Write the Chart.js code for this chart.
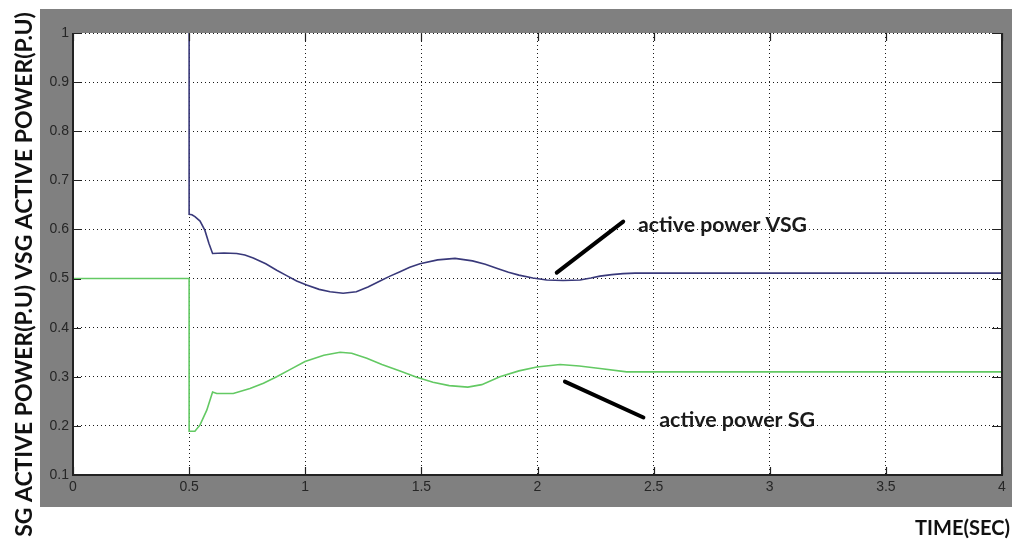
<!DOCTYPE html>
<html>
<head>
<meta charset="utf-8">
<script src="https://cdn.jsdelivr.net/npm/chart.js@4.4.1/dist/chart.umd.min.js"></script>
<style>
html,body{margin:0;padding:0;background:#fff;}
#wrap{width:1012px;height:542px;position:relative;}
</style>
</head>
<body>
<div id="wrap"><canvas id="c"></canvas></div>
<script>
// ---- data ----
const vsgTime  = [0.5, 0.5, 0.512, 0.525, 0.547, 0.568, 0.585, 0.601, 0.65, 0.705, 0.74, 0.776, 0.83, 0.877, 0.92, 0.963, 1.006, 1.06, 1.107, 1.163, 1.22, 1.27, 1.322, 1.365, 1.408, 1.45, 1.494, 1.57, 1.645, 1.72, 1.775, 1.824, 1.875, 1.92, 1.98, 2.04, 2.11, 2.183, 2.23, 2.269, 2.32, 2.368, 2.42, 4.0];
const vsgPower = [1.0, 0.631, 0.630, 0.626, 0.617, 0.598, 0.572, 0.551, 0.552, 0.551, 0.548, 0.542, 0.530, 0.517, 0.506, 0.495, 0.487, 0.478, 0.473, 0.470, 0.473, 0.483, 0.495, 0.505, 0.514, 0.523, 0.530, 0.538, 0.541, 0.536, 0.529, 0.521, 0.513, 0.507, 0.501, 0.497, 0.496, 0.497, 0.501, 0.505, 0.508, 0.510, 0.511, 0.511];
const sgTime   = [0, 0.5, 0.5, 0.525, 0.547, 0.576, 0.601, 0.619, 0.69, 0.762, 0.82, 0.877, 0.94, 0.999, 1.08, 1.15, 1.2, 1.265, 1.33, 1.408, 1.48, 1.55, 1.62, 1.7, 1.76, 1.838, 1.92, 1.997, 2.097, 2.18, 2.269, 2.384, 4.0];
const sgPower  = [0.5, 0.5, 0.189, 0.189, 0.202, 0.232, 0.269, 0.266, 0.266, 0.276, 0.287, 0.300, 0.316, 0.331, 0.344, 0.350, 0.348, 0.3375, 0.325, 0.312, 0.299, 0.289, 0.282, 0.279, 0.284, 0.300, 0.312, 0.320, 0.325, 0.322, 0.317, 0.310, 0.310];

const xTickValues = [0, 0.5, 1, 1.5, 2, 2.5, 3, 3.5, 4];
const xTickLabels = ['0', '0.5', '1', '1.5', '2', '2.5', '3', '3.5', '4'];
const yTickValues = [0.1, 0.2, 0.3, 0.4, 0.5, 0.6, 0.7, 0.8, 0.9, 1];
const yTickLabels = ['0.1', '0.2', '0.3', '0.4', '0.5', '0.6', '0.7', '0.8', '0.9', '1'];

const xAxisTitle = 'TIME(SEC)';
const yAxisTitle = 'SG ACTIVE POWER(P.U) VSG ACTIVE POWER(P.U)';

// annotation: pointer from / to, and text anchor (data units)
const vsgNoteText = 'active power VSG';
const vsgNoteLine = [[2.083, 0.512], [2.369, 0.616]];
const vsgNoteAt   = [2.433, 0.595];
const sgNoteText  = 'active power SG';
const sgNoteLine  = [[2.118, 0.290], [2.456, 0.217]];
const sgNoteAt    = [2.524, 0.197];

// ---- helpers ----
function pts(xs, ys) { return xs.map((x, i) => ({x: x, y: ys[i]})); }
function fitFont(ctx, text, width, family, weight) {
  ctx.font = weight + ' 100px ' + family;
  const w = ctx.measureText(text).width;
  return weight + ' ' + (100 * width / w).toFixed(2) + 'px ' + family;
}

const framePlugin = {
  id: 'frame',
  beforeDraw(chart) {
    const {ctx, chartArea: a, width, height} = chart;
    ctx.save();
    ctx.fillStyle = '#ffffff';
    ctx.fillRect(0, 0, width, height);
    ctx.fillStyle = '#808080';
    ctx.fillRect(a.left - 33, a.top - 24, width - (a.left - 33), (a.bottom + 32) - (a.top - 24));
    ctx.fillStyle = '#ffffff';
    ctx.fillRect(a.left, a.top, a.right - a.left, a.bottom - a.top);
    ctx.restore();
  },
  afterDraw(chart) {
    const {ctx, chartArea: a, scales} = chart;
    const xs = scales.x, ys = scales.y;
    ctx.save();
    // frame (left, bottom, right)
    ctx.strokeStyle = '#222';
    ctx.lineWidth = 2;
    ctx.beginPath();
    ctx.moveTo(a.left, a.top); ctx.lineTo(a.left, a.bottom); ctx.lineTo(a.right, a.bottom); ctx.lineTo(a.right, a.top);
    ctx.stroke();
    // inward ticks
    ctx.lineWidth = 1.2;
    ctx.beginPath();
    xTickValues.forEach(v => {
      const px = Math.round(xs.getPixelForValue(v)) + 0.5;
      ctx.moveTo(px, a.bottom); ctx.lineTo(px, a.bottom - 8);
      ctx.moveTo(px, a.top); ctx.lineTo(px, a.top + 8);
    });
    yTickValues.forEach(v => {
      const py = Math.round(ys.getPixelForValue(v)) + 0.5;
      ctx.moveTo(a.left, py); ctx.lineTo(a.left + 8, py);
      ctx.moveTo(a.right, py); ctx.lineTo(a.right - 10, py);
    });
    ctx.stroke();

    // tick labels
    ctx.fillStyle = '#262626';
    ctx.font = '14px "Liberation Sans", Arial, sans-serif';
    ctx.textAlign = 'right';
    ctx.textBaseline = 'middle';
    yTickValues.forEach((v, i) => {
      ctx.fillText(yTickLabels[i], a.left - 4, ys.getPixelForValue(v));
    });
    ctx.textAlign = 'center';
    ctx.textBaseline = 'top';
    xTickValues.forEach((v, i) => {
      ctx.fillText(xTickLabels[i], xs.getPixelForValue(v), a.bottom + 5);
    });

    // annotations
    ctx.strokeStyle = '#000';
    ctx.lineWidth = 4;
    ctx.lineCap = 'round';
    [vsgNoteLine, sgNoteLine].forEach(l => {
      ctx.beginPath();
      ctx.moveTo(xs.getPixelForValue(l[0][0]), ys.getPixelForValue(l[0][1]));
      ctx.lineTo(xs.getPixelForValue(l[1][0]), ys.getPixelForValue(l[1][1]));
      ctx.stroke();
    });
    ctx.fillStyle = '#1a1a1a';
    ctx.textAlign = 'left';
    ctx.textBaseline = 'alphabetic';
    ctx.font = fitFont(ctx, vsgNoteText, 169, 'Lato, "Open Sans", sans-serif', 'bold');
    ctx.fillText(vsgNoteText, xs.getPixelForValue(vsgNoteAt[0]), ys.getPixelForValue(vsgNoteAt[1]));
    ctx.font = fitFont(ctx, sgNoteText, 156, 'Lato, "Open Sans", sans-serif', 'bold');
    ctx.fillText(sgNoteText, xs.getPixelForValue(sgNoteAt[0]), ys.getPixelForValue(sgNoteAt[1]));

    // axis titles
    ctx.fillStyle = '#111';
    ctx.font = fitFont(ctx, xAxisTitle, 95, 'Lato, "Open Sans", sans-serif', 'bold');
    ctx.textAlign = 'right';
    ctx.fillText(xAxisTitle, 1010, 535);
    ctx.save();
    ctx.translate(32, 274.5);
    ctx.rotate(-Math.PI / 2);
    ctx.textAlign = 'center';
    ctx.font = fitFont(ctx, yAxisTitle, 525, 'Lato, "Open Sans", sans-serif', 'bold');
    ctx.fillText(yAxisTitle, 0, 0);
    ctx.restore();
    ctx.restore();
  }
};

new Chart(document.getElementById('c'), {
  type: 'line',
  data: {
    datasets: [
      {label: 'active power SG', data: pts(sgTime, sgPower), borderColor: '#63c963', borderWidth: 1.6, pointRadius: 0, tension: 0},
      {label: 'active power VSG', data: pts(vsgTime, vsgPower), borderColor: '#39397a', borderWidth: 1.6, pointRadius: 0, tension: 0}
    ]
  },
  options: {
    responsive: true,
    maintainAspectRatio: false,
    animation: false,
    events: [],
    layout: {padding: {left: 40, top: 33, right: 10, bottom: 0}},
    plugins: {legend: {display: false}, tooltip: {enabled: false}, title: {display: false}},
    scales: {
      x: {
        type: 'linear', min: 0, max: 4,
        afterBuildTicks(s) { s.ticks = xTickValues.map(v => ({value: v})); },
        afterFit(s) { s.height = 67; },
        ticks: {display: false, autoSkip: false, maxRotation: 0},
        grid: {color: 'rgba(0,0,0,0.9)', lineWidth: 1, drawTicks: false},
        border: {display: false, dash: [1, 3]}
      },
      y: {
        type: 'linear', min: 0.1, max: 1,
        afterBuildTicks(s) { s.ticks = yTickValues.map(v => ({value: v})); },
        afterFit(s) { s.width = 33; },
        ticks: {display: false, autoSkip: false},
        grid: {color: 'rgba(0,0,0,0.9)', lineWidth: 1, drawTicks: false},
        border: {display: false, dash: [1, 3]}
      }
    }
  },
  plugins: [framePlugin]
});
</script>
</body>
</html>
